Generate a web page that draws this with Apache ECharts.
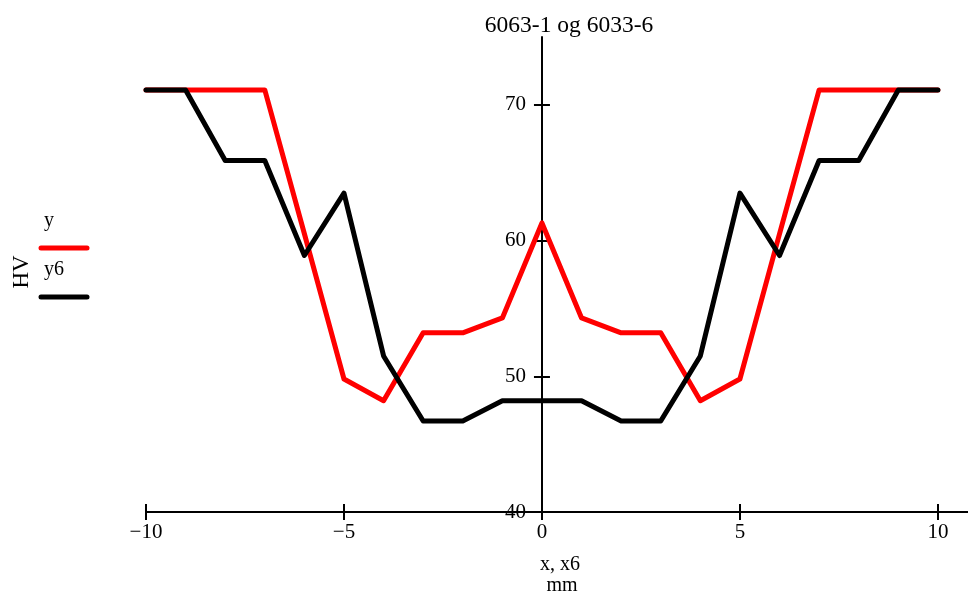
<!DOCTYPE html>
<html>
<head>
<meta charset="utf-8">
<script src="https://cdn.jsdelivr.net/npm/echarts@6/dist/echarts.min.js"></script>
<style>html,body{margin:0;padding:0;background:#fff}#c{width:968px;height:594px}</style>
</head>
<body>
<div id="c"></div>
<script>
var titleText = '6063-1 og 6033-6';
var xValues = [-10,-9,-8,-7,-6,-5,-4,-3,-2,-1,0,1,2,3,4,5,6,7,8,9,10];
var yRed = [71.1,71.1,71.1,71.1,60.5,49.8,48.2,53.2,53.2,54.3,61.3,54.3,53.2,53.2,48.2,49.8,60.5,71.1,71.1,71.1,71.1];
var yBlack = [71.1,71.1,65.9,65.9,58.9,63.5,51.5,46.7,46.7,48.2,48.2,48.2,46.7,46.7,51.5,63.5,58.9,65.9,65.9,71.1,71.1];
var seriesNames = ['y','y6'];
var xTicks = [-10,-5,0,5,10];
var yTicks = [40,50,60,70];
var xAxisTitle = ['x, x6','mm'];
var yAxisTitle = 'HV';

var FONT = '"Liberation Serif", "DejaVu Serif", serif';
function pairs(ys){ return xValues.map(function(x,i){ return [x, ys[i]]; }); }
function fmt(v){ return String(v).replace('-', '\u2212'); }

var GRID_LEFT = 146, X_MIN = -10, X_MAX = 10.76, GRID_W = 968 - GRID_LEFT;
var zeroOffset = -GRID_W * (0 - X_MIN) / (X_MAX - X_MIN);

var chart = echarts.init(document.getElementById('c'), null, {renderer:'canvas'});
var baseX = {
  type:'value', min:X_MIN, max:X_MAX, position:'bottom',
  axisLine:{show:true, onZero:false, lineStyle:{color:'#000', width:2}},
  splitLine:{show:false}
};
var baseY = {
  type:'value', min:40, max:75, position:'left', offset:zeroOffset,
  axisLine:{show:true, onZero:false, lineStyle:{color:'#000', width:2}},
  splitLine:{show:false}
};
chart.setOption({
  animation:false,
  backgroundColor:'#fff',
  title:{text:titleText, left:564, textAlign:'center', top:9,
    textStyle:{fontFamily:FONT, fontSize:23.5, fontWeight:'normal', color:'#000'}},
  grid:{left:GRID_LEFT, right:0, top:37, bottom:82, containLabel:false, outerBoundsMode:'none'},
  xAxis:[
    Object.assign({}, baseX, {
      axisTick:{show:true, length:8, inside:false, customValues:xTicks, lineStyle:{color:'#000', width:2}},
      axisLabel:{show:true, customValues:xTicks, margin:10, formatter:fmt,
        fontFamily:FONT, fontSize:21, color:'#000'}
    }),
    Object.assign({}, baseX, {
      axisLine:{show:false, onZero:false},
      axisTick:{show:true, length:8, inside:true, customValues:xTicks, lineStyle:{color:'#000', width:2}},
      axisLabel:{show:false}
    })
  ],
  yAxis:[
    Object.assign({}, baseY, {
      axisTick:{show:true, length:8, inside:false, customValues:yTicks, lineStyle:{color:'#000', width:2}},
      axisLabel:{show:true, customValues:yTicks, margin:16,
        fontFamily:FONT, fontSize:21, color:'#000'}
    }),
    Object.assign({}, baseY, {
      axisLine:{show:false, onZero:false},
      axisTick:{show:true, length:8, inside:true, customValues:yTicks, lineStyle:{color:'#000', width:2}},
      axisLabel:{show:false}
    })
  ],
  series:[
    {name:seriesNames[0], type:'line', data:pairs(yRed), symbol:'none', z:3,
      lineStyle:{color:'#ff0000', width:5, join:'round', cap:'round'}},
    {name:seriesNames[1], type:'line', data:pairs(yBlack), symbol:'none', z:4,
      lineStyle:{color:'#000000', width:5, join:'round', cap:'round'}}
  ],
  graphic:[
    {type:'text', style:{text:xAxisTitle[0], x:560, y:565, font:'20px '+FONT, fill:'#000', textAlign:'center', textVerticalAlign:'middle'}},
    {type:'text', style:{text:xAxisTitle[1], x:562, y:586, font:'20px '+FONT, fill:'#000', textAlign:'center', textVerticalAlign:'middle'}},
    {type:'text', x:22, y:272, rotation:Math.PI/2, style:{text:yAxisTitle, x:0, y:0, font:'23px '+FONT, fill:'#000', textAlign:'center', textVerticalAlign:'middle'}},
    {type:'text', style:{text:seriesNames[0], x:44, y:221, font:'20px '+FONT, fill:'#000', textAlign:'left', textVerticalAlign:'middle'}},
    {type:'line', shape:{x1:41, y1:248, x2:87, y2:248}, style:{stroke:'#ff0000', lineWidth:5, lineCap:'round'}},
    {type:'text', style:{text:seriesNames[1], x:44, y:270, font:'20px '+FONT, fill:'#000', textAlign:'left', textVerticalAlign:'middle'}},
    {type:'line', shape:{x1:41, y1:297, x2:87, y2:297}, style:{stroke:'#000000', lineWidth:5, lineCap:'round'}}
  ]
});
</script>
</body>
</html>
